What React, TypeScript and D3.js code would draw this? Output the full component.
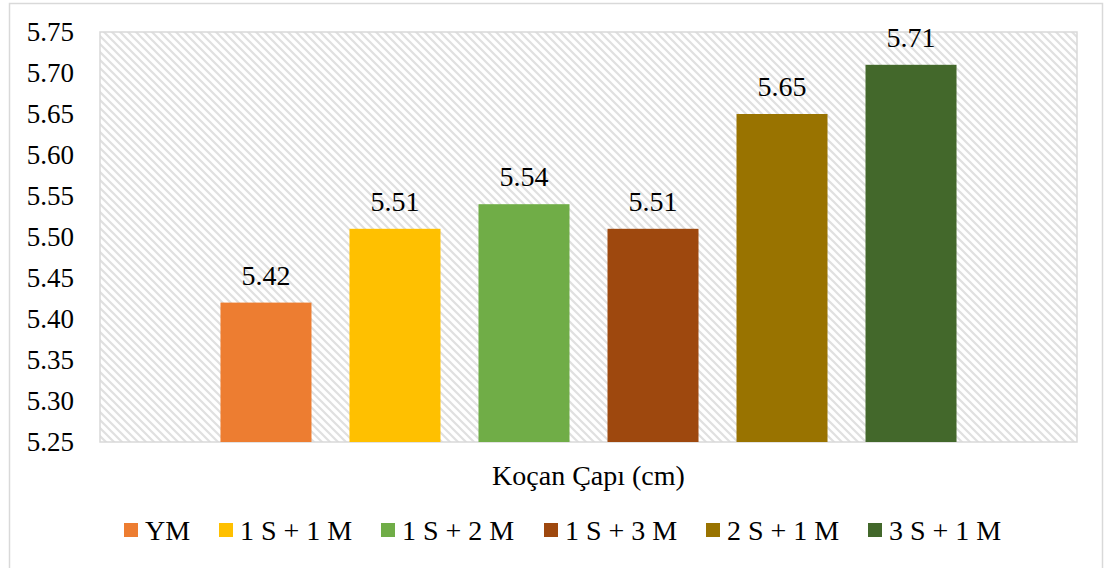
import React from "react";
import * as d3 from "d3";

const seriesNames = ["YM", "1 S + 1 M", "1 S + 2 M", "1 S + 3 M", "2 S + 1 M", "3 S + 1 M"];
const values = [5.42, 5.51, 5.54, 5.51, 5.65, 5.71];
const colors = ["#ED7D31", "#FFC000", "#70AD47", "#9E480E", "#997300", "#43682B"];
const yTicks = [5.25, 5.3, 5.35, 5.4, 5.45, 5.5, 5.55, 5.6, 5.65, 5.7, 5.75];
const categoryLabel = "Koçan Çapı (cm)";

const W = 1106;
const H = 568;
const plot = { left: 100, right: 1077, top: 32, bottom: 442 };
const FONT = "Liberation Serif, Times New Roman, serif";

export default function App() {
  const y = d3.scaleLinear().domain([5.25, 5.75]).range([plot.bottom, plot.top]);
  const xCat = d3.scaleBand().domain([categoryLabel]).range([plot.left, plot.right]).paddingInner(0).paddingOuter(0.1311);
  const groupX = xCat(categoryLabel)!;
  const xSeries = d3.scaleBand().domain(seriesNames).range([groupX, groupX + xCat.bandwidth()]).paddingInner(0.2946).paddingOuter(0.1473);

  const legendX = [124, 219, 381, 544, 706, 868];
  const textStyle = { fontFamily: FONT } as React.CSSProperties;

  return (
    <svg width={W} height={H} style={{ position: "absolute", left: 0, top: 0, background: "#fff", fontFamily: FONT }}>
      <defs>
        <pattern id="hatch" width={8} height={8} patternUnits="userSpaceOnUse">
          <rect width={8} height={8} fill="#fff" />
          <path d="M-2,-2 L10,10 M-2,6 L2,10 M6,-2 L10,2" stroke="#e0e0e0" strokeWidth={2.2} />
        </pattern>
      </defs>
      <rect x={9.5} y={3.5} width={1093} height={H + 10} fill="#fff" stroke="#d9d9d9" strokeWidth={1.5} />
      <rect x={plot.left} y={plot.top} width={plot.right - plot.left} height={plot.bottom - plot.top} fill="url(#hatch)" stroke="#d9d9d9" strokeWidth={1.5} />
      {yTicks.map((t) => (
        <text key={t} x={74} y={y(t)} dy="0.34em" textAnchor="end" fontSize={27} fill="#000" style={textStyle}>
          {t.toFixed(2)}
        </text>
      ))}
      {seriesNames.map((s, i) => {
        const x0 = xSeries(s)!;
        const bw = xSeries.bandwidth();
        return (
          <g key={s}>
            <rect x={x0} y={y(values[i])} width={bw} height={plot.bottom - y(values[i])} fill={colors[i]} />
            <text x={x0 + bw / 2} y={y(values[i]) - 18} textAnchor="middle" fontSize={28} fill="#000" style={textStyle}>
              {values[i].toFixed(2)}
            </text>
          </g>
        );
      })}
      <text x={(plot.left + plot.right) / 2} y={485} textAnchor="middle" fontSize={28} fill="#000" style={textStyle}>
        {categoryLabel}
      </text>
      {seriesNames.map((s, i) => (
        <g key={"lg" + s}>
          <rect x={legendX[i]} y={523} width={14} height={14} fill={colors[i]} />
          <text x={legendX[i] + 21} y={540} fontSize={28} fill="#000" style={textStyle}>
            {s}
          </text>
        </g>
      ))}
    </svg>
  );
}
